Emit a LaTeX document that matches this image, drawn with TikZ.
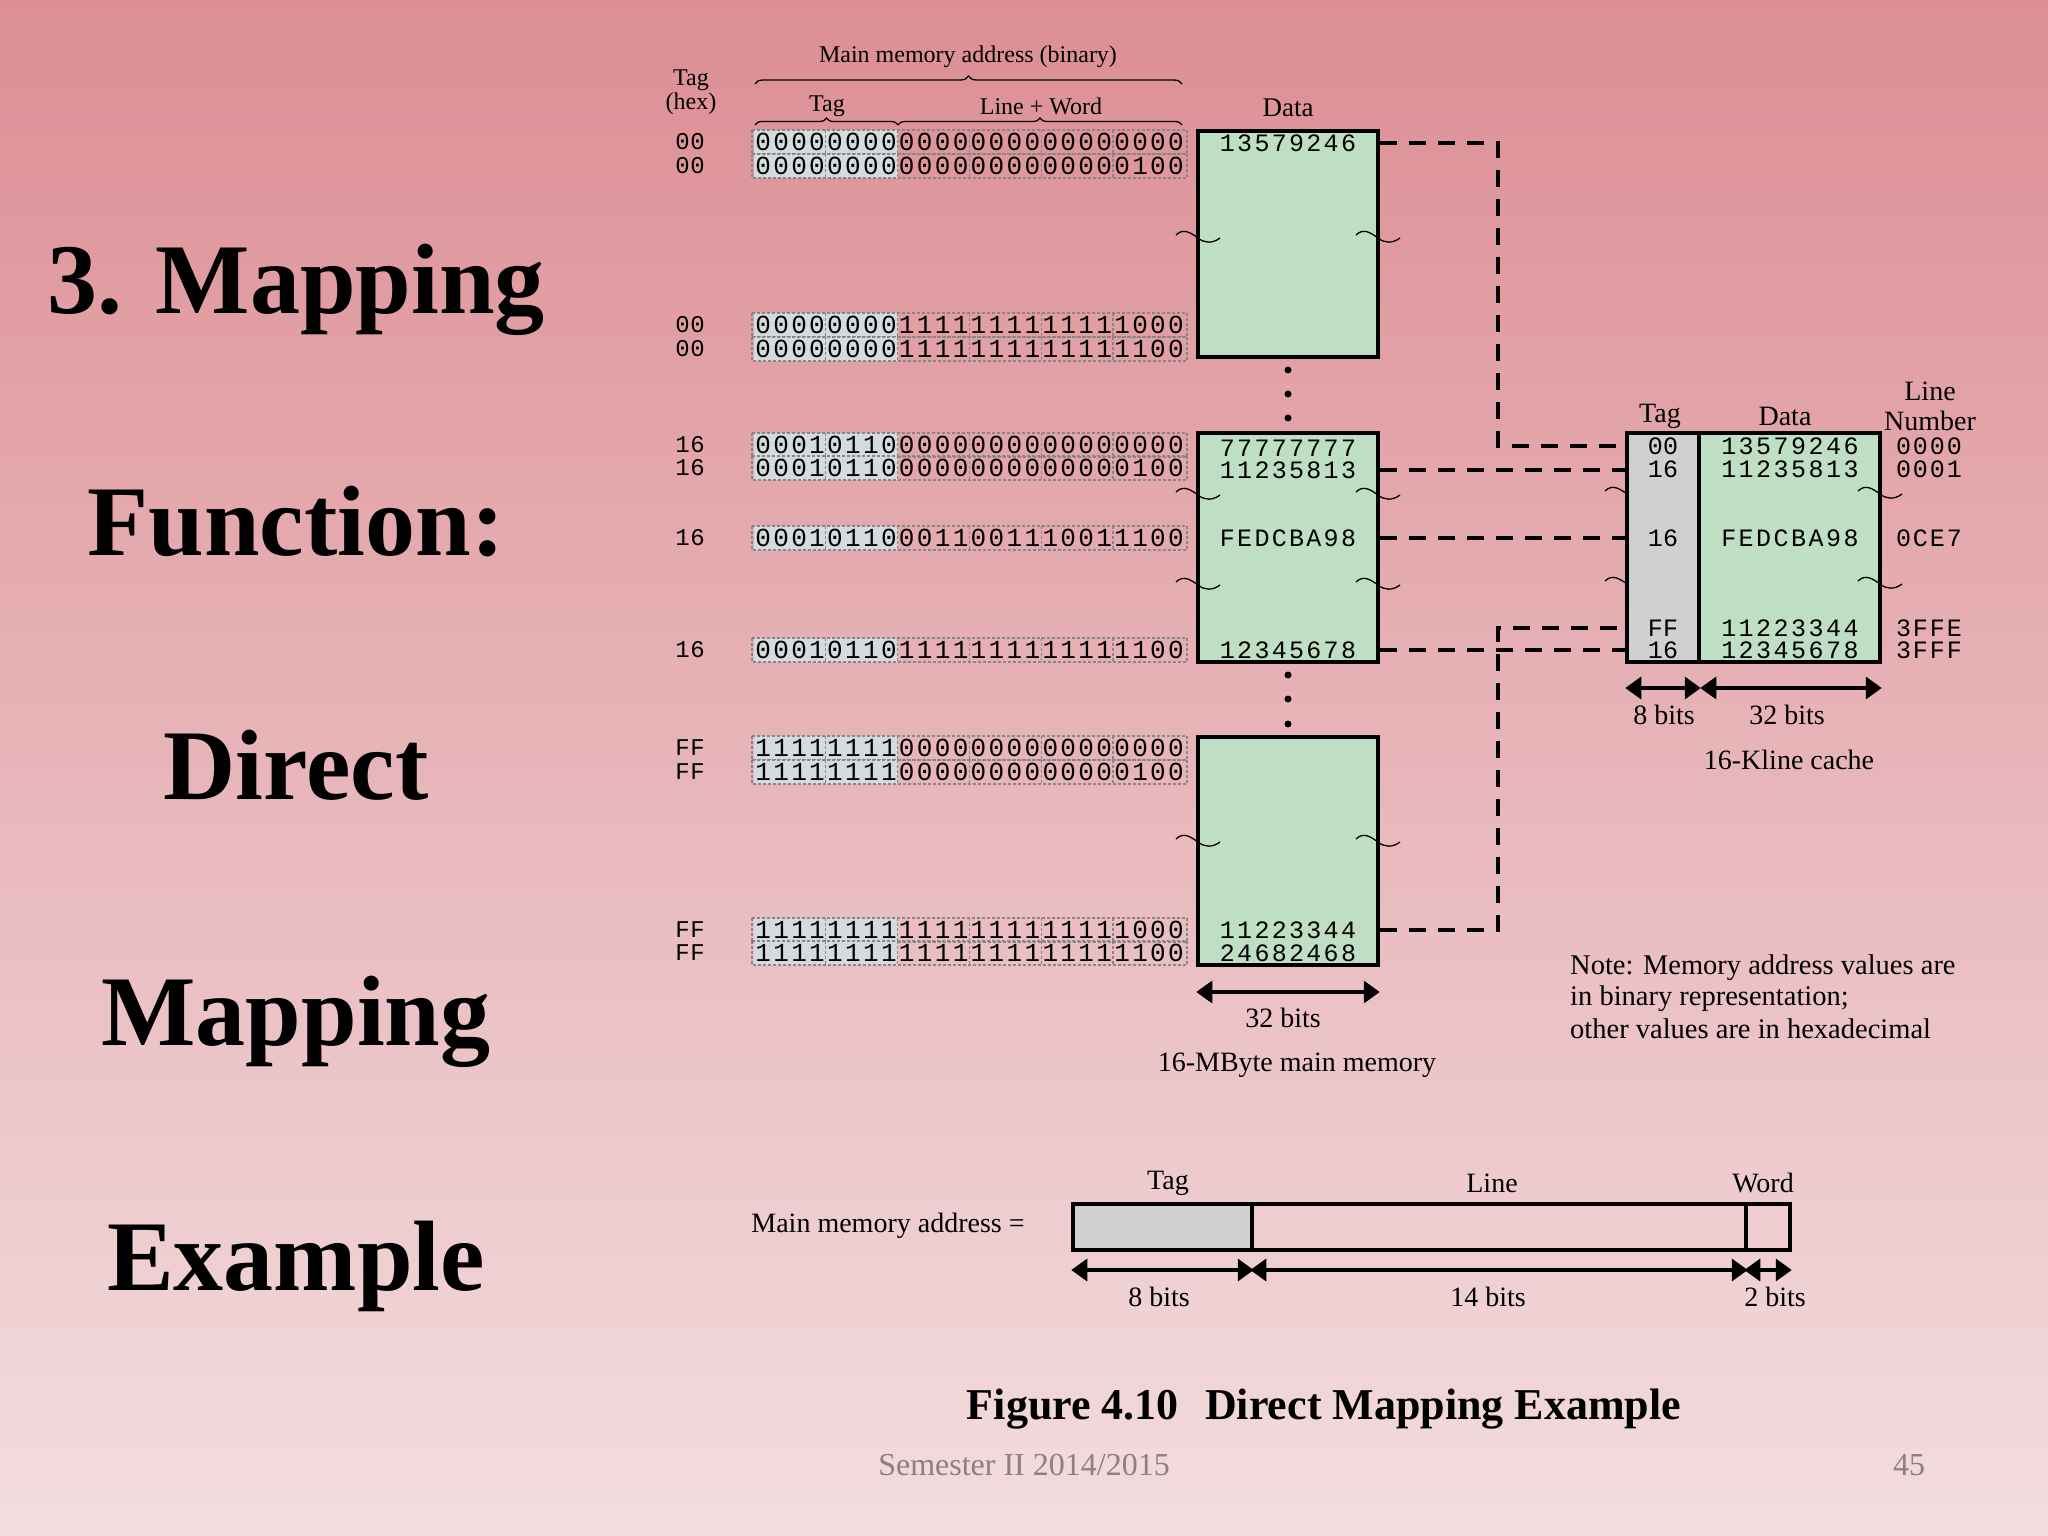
\documentclass[tikz,border=0pt]{standalone}
\usepackage{fontspec}
\setmainfont{Liberation Serif}
\newfontfamily\monof{Liberation Mono}
\usetikzlibrary{arrows.meta,decorations.pathreplacing}

\definecolor{bgtop}{RGB}{220,142,148}
\definecolor{bgmid}{RGB}{233,186,192}
\definecolor{bgbot}{RGB}{243,221,223}
\definecolor{memgreen}{RGB}{190,223,196}
\definecolor{tagshade}{RGB}{212,219,222}
\definecolor{cachegrey}{RGB}{208,208,208}
\definecolor{gridgrey}{RGB}{135,135,135}
\definecolor{footgrey}{RGB}{140,128,130}

\newcommand\mkspaced[2]{\def\spw{#1}\expandafter\mkspacedloop#2\relax}
\def\mkspacedloop#1{\ifx#1\relax\else\makebox[\spw pt]{#1}\expandafter\mkspacedloop\fi}

\tikzset{
  titletext/.style={font=\fontsize{100}{110}\selectfont\bfseries, anchor=base, inner sep=0pt},
  memblock/.style={draw=black, line width=3.5pt, fill=memgreen, minimum width=180pt, inner sep=0pt},
  cachetag/.style={draw=black, line width=3.5pt, fill=cachegrey, minimum width=72pt, minimum height=229pt, inner sep=0pt},
  cachedata/.style={draw=black, line width=3.5pt, fill=memgreen, minimum width=181pt, minimum height=229pt, inner sep=0pt},
  monotext/.style={font=\monof\fontsize{25}{25}\selectfont, inner sep=0pt},
  hextext/.style={font=\monof\fontsize{24}{24}\selectfont, inner sep=0pt},
  binrow/.style={font=\monof\fontsize{26}{26}\selectfont, inner sep=0pt, anchor=west},
  smalllbl/.style={font=\fontsize{24}{26}\selectfont, inner sep=0pt},
  lbl/.style={font=\fontsize{28}{30}\selectfont, inner sep=0pt},
  dashline/.style={line width=3.5pt, dash pattern=on 17pt off 12pt},
  dimarrow/.style={line width=3.5pt, {Triangle[length=16pt,width=22pt]}-{Triangle[length=16pt,width=22pt]}},
  gridline/.style={gridgrey, line width=1.1pt, dash pattern=on 3pt off 2pt},
  bracestyle/.style={line width=1.3pt, decorate, decoration={brace, amplitude=8pt}},
  dotnode/.style={circle, fill=black, inner sep=0pt, minimum size=7pt},
  addrbox/.style={draw=black, line width=3.5pt, minimum height=46pt, inner sep=0pt},
  tilde/.pic={\draw[line width=1.3pt] (-22,-1) .. controls (-14,-9) and (-6,-2) .. (0,2) .. controls (6,7) and (14,8) .. (22,2);},
  halftilde/.pic={\draw[line width=1.3pt] (-22,-1) .. controls (-14,-9) and (-6,-2) .. (0,2);}
}

\begin{document}
\begin{tikzpicture}[x=1pt,y=-1pt]
\useasboundingbox (0,0) rectangle (2048,1536);
\shade[top color=bgtop, middle color=bgmid, bottom color=bgbot] (0,0) rectangle (2048,1536);

% ---------- left title ----------
\node[titletext] (t1) at (296,313) {3. Mapping};
\node[titletext] (t2) at (296,555) {Function:};
\node[titletext] (t3) at (296,799) {Direct};
\node[titletext] (t4) at (296,1045) {Mapping};
\node[titletext] (t5) at (296,1290) {Example};

% ---------- headers ----------
\node[smalllbl] (hdrmain) at (968,57) {Main memory address (binary)};
\node[smalllbl] (hdrtag1) at (691,80) {Tag};
\node[smalllbl] (hdrhex) at (691,104) {(hex)};
\node[smalllbl] (hdrtag2) at (827,106) {Tag};
\node[smalllbl] (hdrlw) at (1041,106) {Line + Word};
\draw[bracestyle] (755,84) -- (1182,84);
\draw[bracestyle, decoration={amplitude=7pt}] (755,125) -- (898,125);
\draw[bracestyle, decoration={amplitude=7pt}] (898,125) -- (1182,125);

% ---------- binary rows ----------
\foreach \y/\bits/\hx [count=\k] in {
  142/000000000000000000000000/00,
  166/000000000000000000000100/00,
  325/000000001111111111111000/00,
  349/000000001111111111111100/00,
  445/000101100000000000000000/16,
  468/000101100000000000000100/16,
  538/000101100011001110011100/16,
  650/000101101111111111111100/16,
  748/111111110000000000000000/FF,
  772/111111110000000000000100/FF,
  930/111111111111111111111000/FF,
  953/111111111111111111111100/FF}{
  \fill[tagshade] (754,\y-12) rectangle (897.6,\y+12);
  \draw[gridline] (752,\y-12) rectangle (1187,\y+12);
  \foreach \j in {1,...,5}{
    \draw[gridline] (754+71.8*\j,\y-12) -- (754+71.8*\j,\y+12);
  }
  \node[binrow] (r\k) at (754,\y) {\mkspaced{17.95}{\bits}};
  \node[hextext] (h\k) at (690,\y) {\mkspaced{15}{\hx}};
}

% ---------- main memory blocks ----------
\node[smalllbl, font=\fontsize{27}{29}\selectfont] (datahdr) at (1288,108) {Data};
\node[memblock, minimum height=226pt] (mb1) at (1288,244) {};
\node[memblock, minimum height=229pt] (mb2) at (1288,547.5) {};
\node[memblock, minimum height=228pt] (mb3) at (1288,851) {};

\node[monotext] (d11) at (1288,143) {\mkspaced{17.3}{13579246}};
\node[monotext] (d21) at (1288,448) {\mkspaced{17.3}{77777777}};
\node[monotext] (d22) at (1288,470) {\mkspaced{17.3}{11235813}};
\node[monotext] (d23) at (1288,538) {\mkspaced{17.3}{FEDCBA98}};
\node[monotext] (d24) at (1288,650) {\mkspaced{17.3}{12345678}};
\node[monotext] (d31) at (1288,930) {\mkspaced{17.3}{11223344}};
\node[monotext] (d32) at (1288,953) {\mkspaced{17.3}{24682468}};

\node[dotnode] (dot1) at (1288,370) {};
\node[dotnode] (dot2) at (1288,394) {};
\node[dotnode] (dot3) at (1288,418) {};
\node[dotnode] (dot4) at (1288,675) {};
\node[dotnode] (dot5) at (1288,699) {};
\node[dotnode] (dot6) at (1288,724) {};

\pic at (1198,236) {tilde};
\pic at (1378,236) {tilde};
\pic at (1198,493) {tilde};
\pic at (1378,493) {tilde};
\pic at (1198,583) {tilde};
\pic at (1378,583) {tilde};
\pic at (1198,840) {tilde};
\pic at (1378,840) {tilde};

\coordinate (memarrow) at (0,992);
\draw[dimarrow] (mb3.west |- memarrow) -- (mb3.east |- memarrow);
\node[lbl] (mem32) at (1283,1018) {32 bits};
\node[lbl] (memcap) at (1297,1065) {16-MByte main memory};

% ---------- cache ----------
\node[cachetag] (ctag) at (1663,547.5) {};
\node[cachedata] (cdata) at (1789.5,547.5) {};
\node[lbl] (ctaghdr) at (1660,416) {Tag};
\node[lbl] (cdatahdr) at (1785,416) {Data};
\node[lbl] (clinehdr) at (1930,391) {Line};
\node[lbl] (cnumhdr) at (1930,421) {Number};

\foreach \y/\tg/\dt/\ln [count=\k] in {
  446/00/13579246/0000,
  469/16/11235813/0001,
  538/16/FEDCBA98/0CE7,
  628/FF/11223344/3FFE,
  650/16/12345678/3FFF}{
  \node[monotext] (c\k t) at (1663,\y) {\mkspaced{15.5}{\tg}};
  \node[monotext] (c\k d) at (1790,\y) {\mkspaced{17.5}{\dt}};
  \node[monotext] (c\k n) at (1929,\y) {\mkspaced{17}{\ln}};
}

\pic at (1627,492) {halftilde};
\pic at (1627,582) {halftilde};
\pic at (1880,492) {tilde};
\pic at (1880,582) {tilde};

\coordinate (cachearrow) at (0,688);
\draw[dimarrow] (ctag.west |- cachearrow) -- (ctag.east |- cachearrow);
\draw[dimarrow] ([xshift=3pt]cdata.west |- cachearrow) -- (cdata.east |- cachearrow);
\node[lbl] (c8) at (1664,715) {8 bits};
\node[lbl] (c32) at (1787,715) {32 bits};
\node[lbl] (ccap) at (1789,760) {16-Kline cache};

% ---------- dashed mapping lines ----------
\coordinate (vbus) at (1498,300);
\draw[dashline] (mb1.east |- d11) -| (vbus |- c1t) -- (ctag.west |- c1t);
\draw[dashline] (mb2.east |- d22) -- (ctag.west |- d22);
\draw[dashline] (mb2.east |- d23) -- (ctag.west |- d23);
\draw[dashline] (mb2.east |- d24) -- (ctag.west |- d24);
\draw[dashline] (mb3.east |- d31) -| (vbus |- c4t) -- (ctag.west |- c4t);

% ---------- note ----------
\node[lbl, font=\fontsize{28.5}{30}\selectfont, anchor=west] (note1) at (1570,968) {Note: Memory address values are};
\node[lbl, font=\fontsize{28.5}{30}\selectfont, anchor=west] (note2) at (1570,999) {in binary representation;};
\node[lbl, font=\fontsize{28.5}{30}\selectfont, anchor=west] (note3) at (1570,1029) {other values are in hexadecimal};

% ---------- address format ----------
\node[lbl] (mmaddr) at (888,1226) {Main memory address =};
\node[addrbox, fill=cachegrey, minimum width=179pt] (atag) at (1162.5,1227) {};
\node[addrbox, minimum width=494pt] (aline) at (1499,1227) {};
\node[addrbox, minimum width=44pt] (aword) at (1768,1227) {};
\node[lbl] (atagl) at (1168,1183) {Tag};
\node[lbl] (alinel) at (1492,1183) {Line};
\node[lbl] (awordl) at (1763,1183) {Word};
\coordinate (addrarrow) at (0,1270);
\draw[dimarrow] (atag.west |- addrarrow) -- (atag.east |- addrarrow);
\draw[dimarrow] (aline.west |- addrarrow) -- (aline.east |- addrarrow);
\draw[dimarrow] (aword.west |- addrarrow) -- (aword.east |- addrarrow);
\node[lbl] (a8) at (1159,1297) {8 bits};
\node[lbl] (a14) at (1488,1297) {14 bits};
\node[lbl] (a2) at (1775,1297) {2 bits};

% ---------- caption & footer ----------
\node[font=\fontsize{44}{48}\selectfont\bfseries, inner sep=0pt] (caption) at (1324,1409) {Figure 4.10\hspace{0.6em}Direct Mapping Example};
\node[font=\fontsize{32}{34}\selectfont, text=footgrey, inner sep=0pt] (footer) at (1024,1465) {Semester II 2014/2015};
\node[font=\fontsize{32}{34}\selectfont, text=footgrey, inner sep=0pt] (pagenum) at (1909,1465) {45};
\end{tikzpicture}
\end{document}
